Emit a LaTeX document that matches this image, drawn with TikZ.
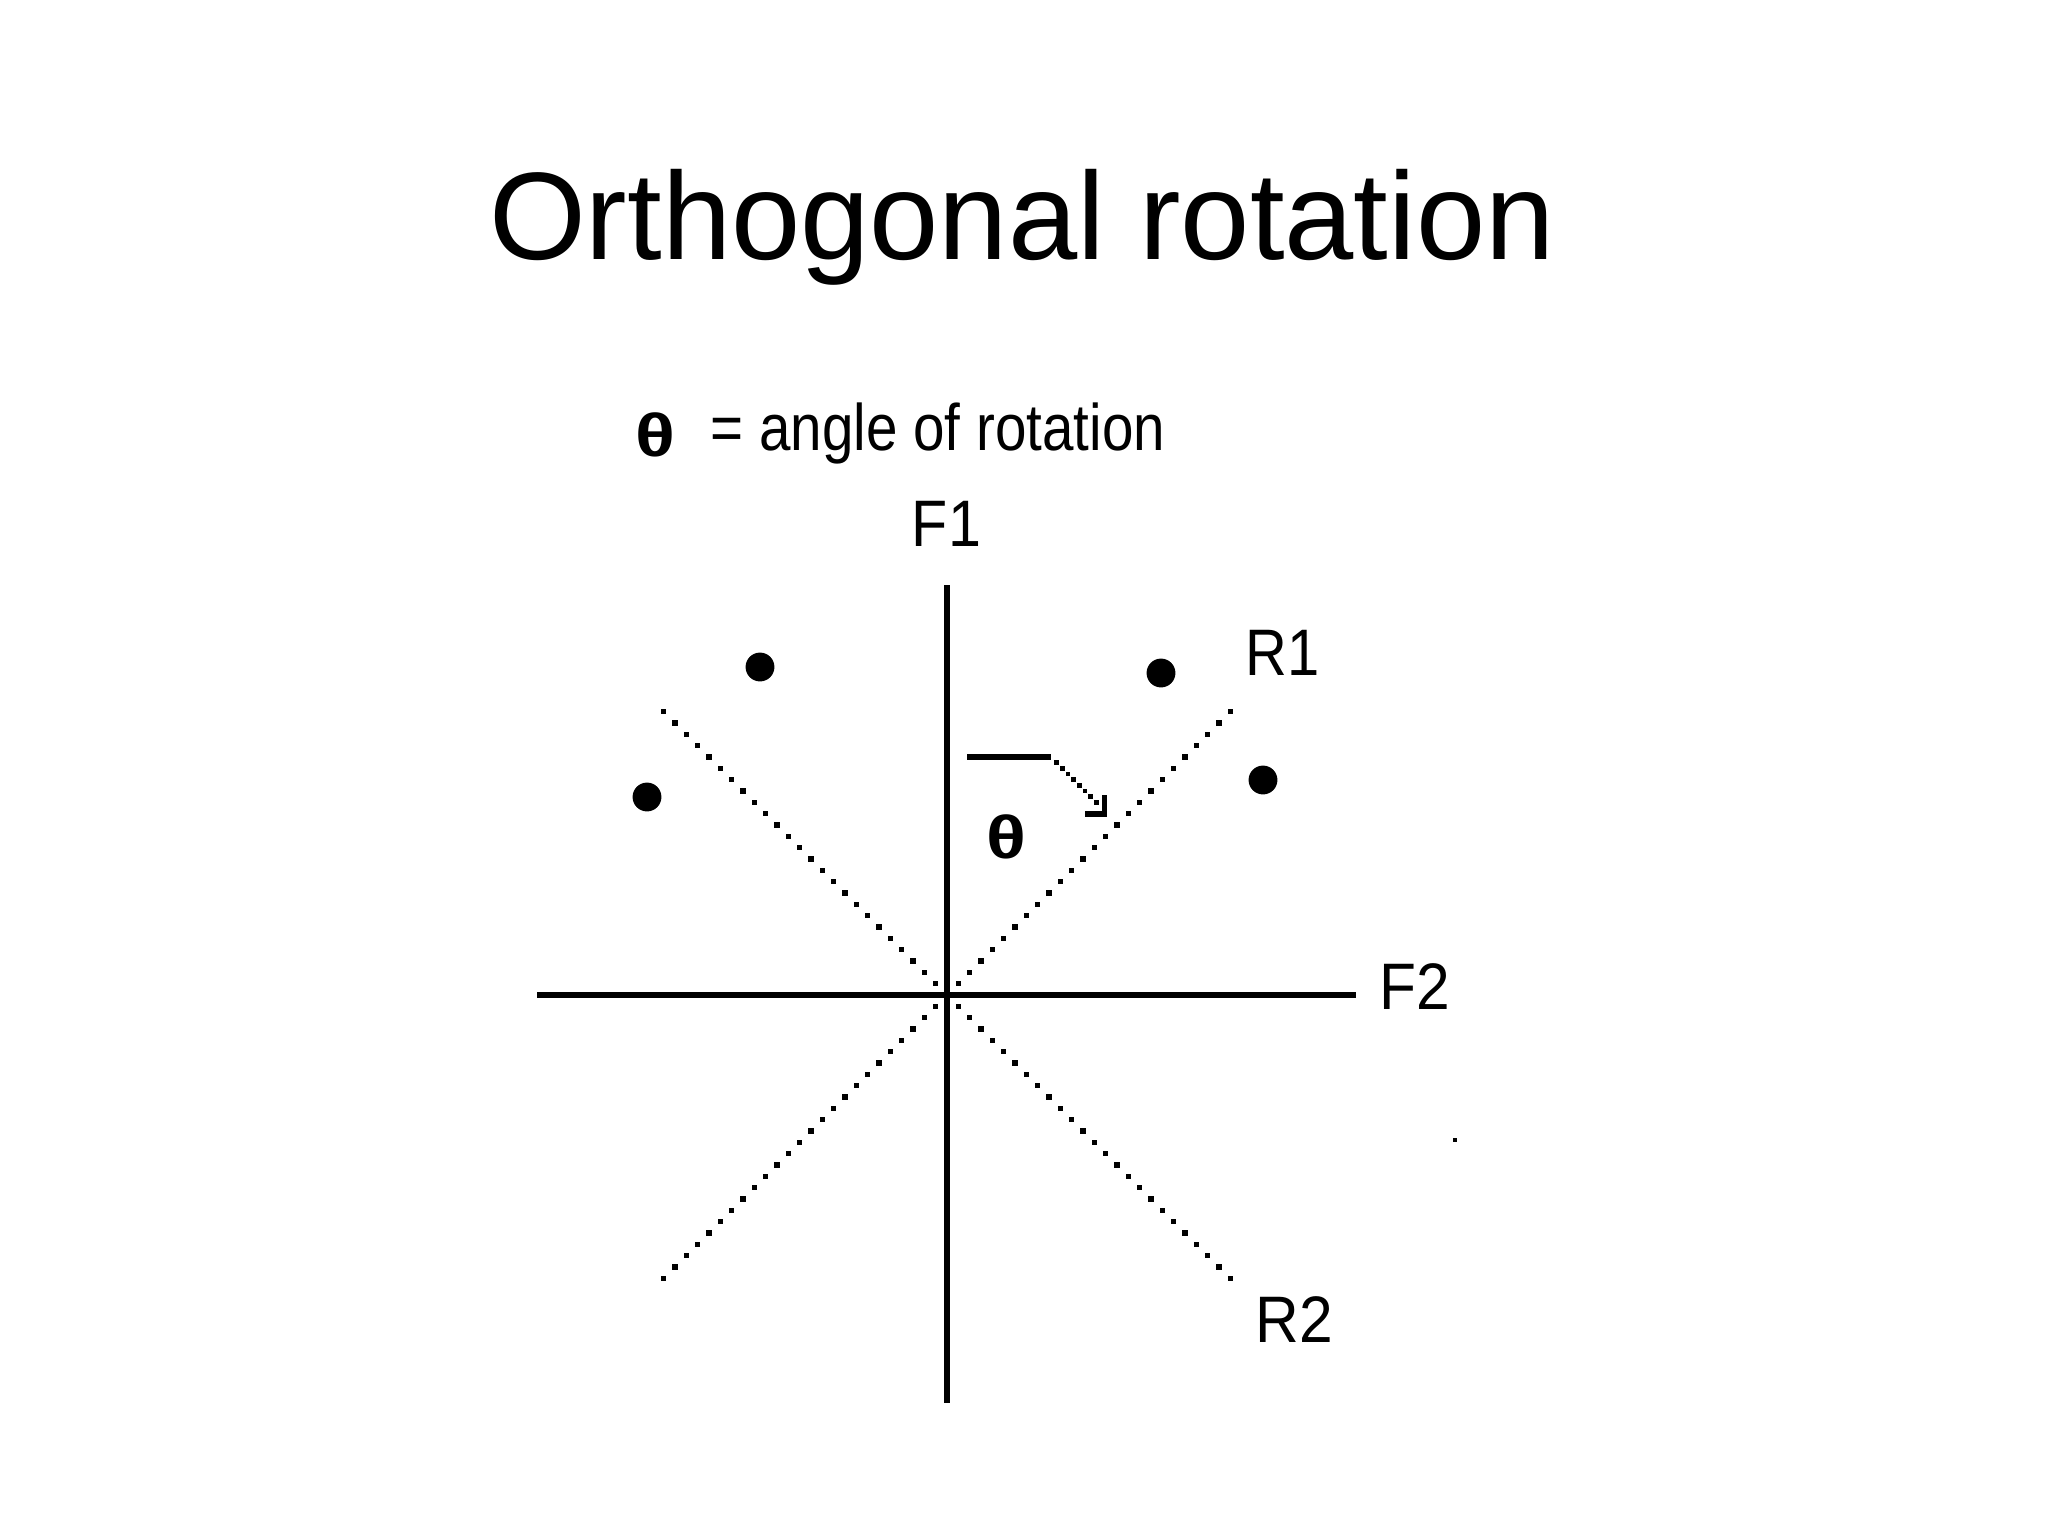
\documentclass[tikz,border=0pt]{standalone}
\usepackage{fontspec}
\setmainfont{Liberation Sans}
\begin{document}
\begin{tikzpicture}[x=0.01cm, y=-0.01cm,
  axis/.style={line width=1.5pt},
  pt/.style={circle, fill=black, inner sep=0pt, minimum size=8.2pt},
  lbl/.style={inner sep=0pt, font=\fontsize{18.7}{20}\selectfont},
  thetasym/.style={inner sep=0pt, font=\fontsize{17.2}{19}\selectfont\bfseries},
  arr/.style={line width=1.45pt}]
\useasboundingbox (0,0) rectangle (2048,1536);
% title
\node[anchor=base, inner sep=0pt, font=\fontsize{35.4}{40}\selectfont] (title) at (1022,259) {Orthogonal rotation};
% legend
\node[thetasym] (lgtheta) at (655,435) {\scalebox{1.22}[1]{θ}};
\node[lbl, anchor=base west] (lgtext) at (710,450) {\scalebox{0.86}[1]{= angle of rotation}};
% axes
\coordinate (O) at (947,995);
\coordinate (F1top) at (947,585);
\coordinate (F1bot) at (947,1403);
\coordinate (F2left) at (537,995);
\coordinate (F2right) at (1356,995);
\draw[axis] (F1top) -- (F1bot);
\draw[axis] (F2left) -- (F2right);
\node[lbl] (F1) at (946.5,523.5) {\scalebox{0.9}[1]{F1}};
\node[lbl] (F2) at (1415,986.5) {\scalebox{0.92}[1]{F2}};
\node[lbl] (R1) at (1282.5,653) {\scalebox{0.88}[1]{R1}};
\node[lbl] (R2) at (1294,1319.5) {\scalebox{0.92}[1]{R2}};
% dotted rotated axes
\foreach \k in {1,...,25} {
  \fill[shift={(O)}] ({\k*11.33-2.6},{-\k*11.33-2.6}) rectangle +(5.2,5.2);
  \fill[shift={(O)}] ({-\k*11.33-2.6},{-\k*11.33-2.6}) rectangle +(5.2,5.2);
  \fill[shift={(O)}] ({\k*11.33-2.6},{\k*11.33-2.6}) rectangle +(5.2,5.2);
  \fill[shift={(O)}] ({-\k*11.33-2.6},{\k*11.33-2.6}) rectangle +(5.2,5.2);
}
% data points
\node[pt] (p1) at (760,667) {};
\node[pt] (p2) at (647,797) {};
\node[pt] (p3) at (1161,673) {};
\node[pt] (p4) at (1263,780) {};
% rotation arrow
\coordinate (a0) at (967,757);
\coordinate (a1) at (1051,757);
\draw[arr] (a0) -- (a1);
\foreach \k in {1,...,8} {
  \fill[shift={(a1)}] ({\k*5.67-2.4},{\k*5.67-2.4}) rectangle +(4.8,4.8);
}
\coordinate (h1) at (1104.5,795);
\coordinate (h2) at (1104.5,814);
\coordinate (h3) at (1085,814);
\draw[arr] (h1) -- (1104.5,816.7);
\draw[arr] (h3) -- (1107,814);
% theta in diagram
\node[thetasym] (theta) at (1006,837) {\scalebox{1.22}[1]{θ}};
% stray dot
\fill (1453,1138) rectangle +(4,4);
\end{tikzpicture}
\end{document}
